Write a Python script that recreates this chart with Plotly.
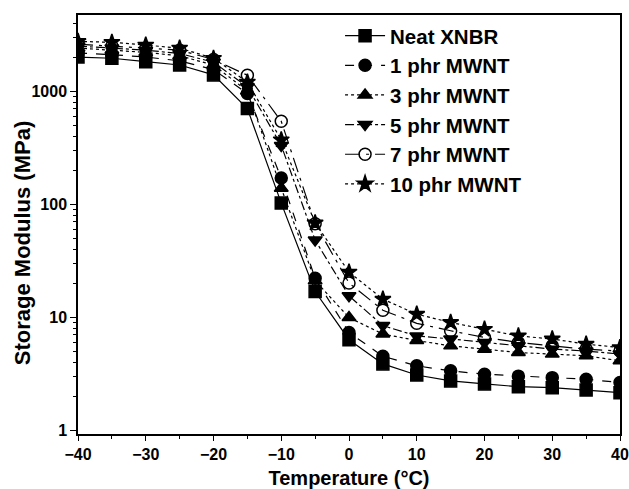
import plotly.graph_objects as go

temperature = [-40, -35, -30, -25, -20, -15, -10, -5, 0, 5, 10, 15, 20, 25, 30, 35, 40]

neat_xnbr = [2000, 1950, 1820, 1700, 1390, 700, 102, 16.8, 6.3, 3.85, 3.07, 2.72, 2.56, 2.42, 2.37, 2.26, 2.14]
phr_1 = [2170, 2100, 2000, 1850, 1550, 950, 170, 22, 7.3, 4.5, 3.7, 3.34, 3.12, 3.0, 2.91, 2.82, 2.63]
phr_3 = [2400, 2300, 2200, 2050, 1700, 1000, 138, 21, 9.9, 7.07, 6.2, 5.56, 5.2, 4.85, 4.7, 4.54, 4.1]
phr_5 = [2500, 2400, 2300, 2150, 1800, 1090, 330, 48, 15.4, 8.4, 6.8, 6.4, 5.96, 5.56, 5.2, 5.0, 4.7]
phr_7 = [2600, 2500, 2400, 2300, 1900, 1380, 540, 67, 20, 11.5, 8.8, 7.56, 6.6, 5.96, 5.56, 5.2, 5.0]
phr_10 = [2750, 2700, 2550, 2400, 1950, 1200, 370, 68, 25, 14.4, 10.6, 8.96, 7.8, 6.8, 6.4, 5.76, 5.37]

y_major = [1, 10, 100, 1000]
y_minor = [m * d for d in [1, 10, 100, 1000] for m in range(2, 10) if m * d <= 4700]

series = [
    ("Neat XNBR", neat_xnbr, "square", "solid"),
    ("1 phr MWNT", phr_1, "circle", "dash"),
    ("3 phr MWNT", phr_3, "triangle-up", "dot"),
    ("5 phr MWNT", phr_5, "triangle-down", "dashdot"),
    ("7 phr MWNT", phr_7, "circle-open", "longdashdot"),
    ("10 phr MWNT", phr_10, "star", "dot"),
]

fig = go.Figure()
for name, values, symbol, dash in series:
    fig.add_trace(go.Scatter(
        x=temperature, y=values, name=name, mode="lines+markers",
        line=dict(color="black", width=1.2, dash=dash),
        marker=dict(symbol=symbol, size=12, color="black",
                    line=dict(color="black", width=1.5)),
    ))

font_family = "Liberation Sans, Arial, sans-serif"

fig.update_layout(
    width=629, height=489,
    margin=dict(l=78, r=9, t=15, b=55),
    paper_bgcolor="white", plot_bgcolor="white",
    font=dict(family=font_family, color="black", size=16, weight="bold"),
    legend=dict(
        x=0.4835, y=0.998, xanchor="left", yanchor="top",
        bgcolor="rgba(0,0,0,0)", borderwidth=0,
        font=dict(size=20.5, family=font_family, weight="bold"),
        itemwidth=40, tracegroupgap=0,
    ),
    showlegend=True,
)

# vertical axis title, placed as a rotated annotation
fig.add_annotation(
    text="Storage Modulus (MPa)", textangle=-90,
    xref="paper", yref="paper", x=-0.101, y=0.456,
    xanchor="center", yanchor="middle", showarrow=False,
    font=dict(size=22, family=font_family, weight="bold", color="black"),
)

fig.update_xaxes(
    range=[-40, 40], dtick=10, tick0=-40, automargin=False,
    title=dict(text="Temperature (°C)", font=dict(size=20, weight="bold"), standoff=12),
    showline=True, linecolor="black", linewidth=1.5, mirror=True,
    ticks="outside", ticklen=5, tickwidth=1.2, tickcolor="black",
    minor=dict(ticks="outside", ticklen=3, dtick=5, tickcolor="black", showgrid=False),
    showgrid=False, zeroline=False,
)
fig.update_yaxes(
    type="log", range=[-0.035, 3.673], automargin=False,
    tickmode="array", tickvals=y_major, ticktext=[str(v) for v in y_major],
    showline=True, linecolor="black", linewidth=1.5, mirror=True,
    ticks="outside", ticklen=6, tickwidth=1.2, tickcolor="black",
    minor=dict(tickmode="array", tickvals=y_minor, ticks="outside", ticklen=3,
               tickcolor="black", showgrid=False),
    showgrid=False, zeroline=False,
)

fig.write_html("out.html")
